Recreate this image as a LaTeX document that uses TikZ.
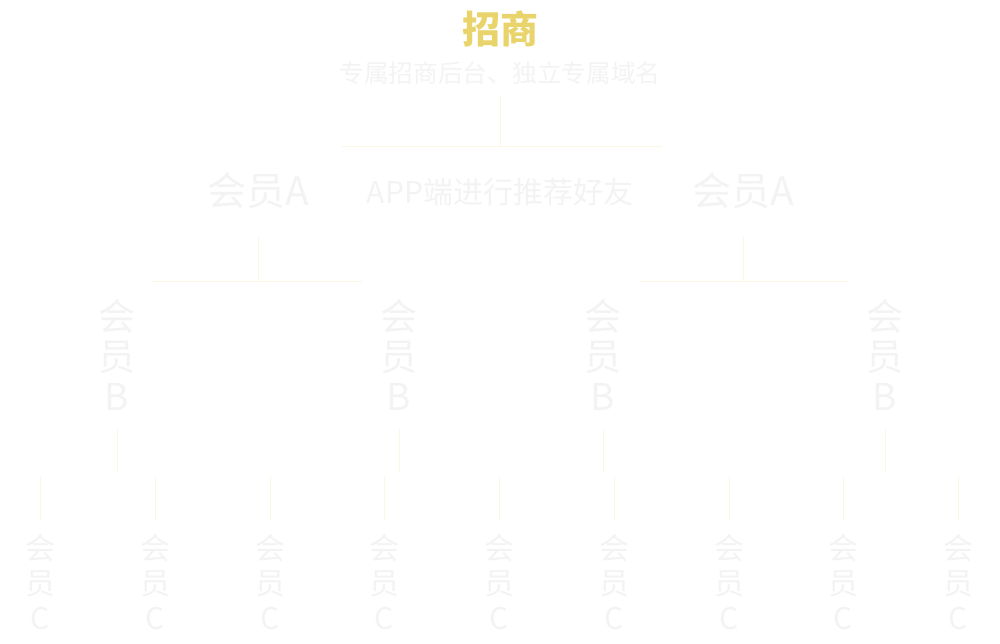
\documentclass[tikz,border=0pt]{standalone}
\usepackage{fontspec}
\setmainfont{Noto Sans CJK SC}
\usepackage{xcolor}
\definecolor{titlegold}{HTML}{E8D46A}
\definecolor{textgray}{HTML}{F3F3F3}
\definecolor{linecream}{HTML}{FBF7E4}

\begin{document}
\begin{tikzpicture}[x=1pt, y=-1pt,
  member/.style={text=textgray, inner sep=0pt, font=\fontsize{39}{40}\selectfont},
  vmemberb/.style={text=textgray, inner sep=0pt, align=center, font=\fontsize{37}{40}\selectfont},
  vmemberc/.style={text=textgray, inner sep=0pt, align=center, font=\fontsize{30}{35}\selectfont},
  link/.style={draw=linecream, line width=1pt}
]
\useasboundingbox (0,0) rectangle (1000,644);

% Top: title and subtitle
\node[text=titlegold, inner sep=0pt, font=\fontsize{38}{40}\selectfont\bfseries] (title) at (500,29) {招商};
\node[text=textgray, inner sep=0pt, font=\fontsize{24.7}{28}\selectfont] (title-sub) at (500,73) {专属招商后台、独立专属域名};
\coordinate (top-fork) at (500,147);
\draw[link] ([yshift=51pt]top-fork) -- (top-fork);
\draw[link] ([xshift=-158pt]top-fork) -- ([xshift=162pt]top-fork);

% Second row: member A and the middle label
\node[member] (a1) at (258,191) {会员A};
\node[text=textgray, inner sep=0pt, font=\fontsize{30}{34}\selectfont] (app) at (500,192) {APP端进行推荐好友};
\node[member] (a2) at (743,191) {会员A};
\coordinate (a1-fork) at (258,281);
\coordinate (a2-fork) at (743,281);
\draw[link] ([yshift=45pt]a1-fork) -- (a1-fork);
\draw[link] ([xshift=-105pt]a1-fork) -- ([xshift=104pt]a1-fork);
\draw[link] ([yshift=45pt]a2-fork) -- (a2-fork);
\draw[link] ([xshift=-104pt]a2-fork) -- ([xshift=105pt]a2-fork);

% Third row: member B, written top to bottom
\foreach \x [count=\i] in {117,399,603,885}{
  \node[vmemberb] (b\i) at (\x,355) {会\\员\\B};
  \draw[link] (b\i.south) ++(0,18) -- ++(0,43);
}

% Bottom row: member C
\foreach \x [count=\i] in {40,155,270,384,499,614,729,843,958}{
  \node[vmemberc] (c\i) at (\x,582) {会\\员\\C};
  \draw[link] (c\i.north) ++(0,-14) -- ++(0,-44);
}
\end{tikzpicture}
\end{document}
